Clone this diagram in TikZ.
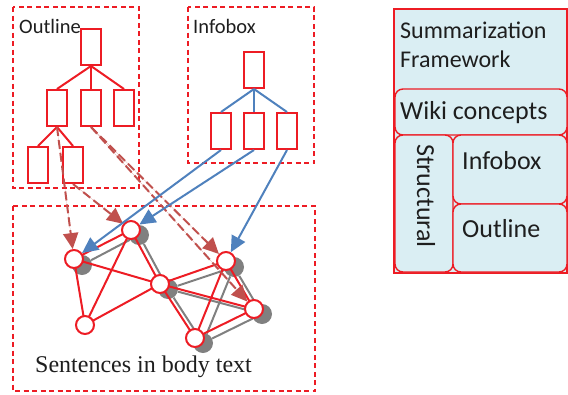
\documentclass[tikz,border=0pt]{standalone}
\usepackage{fontspec}
\setmainfont{Liberation Serif}
\newfontfamily\calfont{Carlito}
\usetikzlibrary{arrows.meta}
\definecolor{myred}{RGB}{237,28,36}
\definecolor{dashred}{RGB}{192,80,77}
\definecolor{myblue}{RGB}{79,129,189}
\definecolor{panel}{RGB}{218,238,243}
\definecolor{shadow}{RGB}{128,128,128}
\definecolor{txt}{RGB}{30,30,30}
\begin{document}
\begin{tikzpicture}[x=1pt,y=-1pt,
 rbox/.style={draw=myred,line width=2pt,minimum width=20pt,minimum height=36pt,inner sep=0pt},
 frame/.style={draw=myred,line width=1.8pt,dash pattern=on 5pt off 3.5pt},
 rn/.style={circle,draw=myred,fill=white,line width=2pt,minimum size=18pt,inner sep=0pt},
 gn/.style={circle,fill=shadow,minimum size=20pt,inner sep=0pt},
 redge/.style={draw=myred,line width=2pt},
 bedge/.style={draw=myblue,line width=2pt},
 gedge/.style={draw=shadow,line width=2pt},
 darr/.style={draw=dashred,fill=dashred,line width=2pt,dash pattern=on 9pt off 4pt,-{Triangle[length=16pt,width=15pt]}},
 barr/.style={draw=myblue,fill=myblue,line width=2pt,-{Triangle[length=16pt,width=15pt]}},
 lab/.style={anchor=west,inner sep=0pt,text=txt,font=\calfont\fontsize{20.5}{22}\selectfont},
 plab/.style={anchor=west,inner sep=0pt,text=txt,font=\calfont\fontsize{26}{28}\selectfont},
 pbox/.style={draw=myred,line width=1.4pt,fill=panel,rounded corners=8pt}
]
\useasboundingbox (0,0) rectangle (568,394);

% frames
\draw[frame] (13,7) rectangle (139,188);
\draw[frame] (188,7) rectangle (314,163);
\draw[frame] (13,206) rectangle (315,391);

\node[lab] (lo) at (19,26) {Outline};
\node[lab] (li) at (193,26) {Infobox};
\node[anchor=west,inner sep=0pt,text=txt,font=\fontsize{24}{26}\selectfont] (ls) at (35,367) {Sentences in body text};

% outline tree
\node[rbox] (o0) at (91,47) {};
\node[rbox] (oa) at (57,108) {};
\node[rbox] (ob) at (91,108) {};
\node[rbox] (oc) at (124,108) {};
\node[rbox] (od) at (38,165) {};
\node[rbox] (oe) at (73,165) {};
\draw[redge] (o0.south) -- (oa.north);
\draw[redge] (o0.south) -- (ob.north);
\draw[redge] (o0.south) -- (oc.north);
\draw[redge] (oa.south) -- (od.north);
\draw[redge] (oa.south) -- (oe.north);

% infobox tree
\node[rbox] (i0) at (254,70) {};
\node[rbox] (ia) at (221,131) {};
\node[rbox] (ib) at (254,131) {};
\node[rbox] (ic) at (287,131) {};
\draw[bedge] (i0.south) -- (ia.north);
\draw[bedge] (i0.south) -- (ib.north);
\draw[bedge] (i0.south) -- (ic.north);

% shadow graph
\node[gn] (ga) at (82,265) {};
\node[gn] (gb) at (139,235) {};
\node[gn] (gc) at (168,289) {};
\node[gn] (ge) at (234,267) {};
\node[gn] (gf) at (262,314) {};
\node[gn] (gg) at (203,343) {};
\draw[gedge] (ga) -- (gb);
\draw[gedge] (gb) -- (gc);
\draw[gedge] (gc) -- (ge);
\draw[gedge] (gc) -- (gf);
\draw[gedge] (gc) -- (gg);
\draw[gedge] (ge) -- (gf);
\draw[gedge] (ge) -- (gg);
\draw[gedge] (gf) -- (gg);

% red graph
\coordinate (pA) at (74,259);
\coordinate (pB) at (131,230);
\coordinate (pC) at (160,284);
\coordinate (pD) at (85,325);
\coordinate (pE) at (226,261);
\coordinate (pF) at (254,309);
\coordinate (pG) at (195,338);
\draw[redge] (pA) -- (pB) (pA) -- (pC) (pA) -- (pD) (pB) -- (pD) (pB) -- (pC) (pC) -- (pD)
  (pC) -- (pE) (pC) -- (pF) (pC) -- (pG) (pE) -- (pF) (pE) -- (pG) (pF) -- (pG);
\node[rn] (A) at (pA) {};
\node[rn] (B) at (pB) {};
\node[rn] (C) at (pC) {};
\node[rn] (D) at (pD) {};
\node[rn] (E) at (pE) {};
\node[rn] (F) at (pF) {};
\node[rn] (G) at (pG) {};

% arrows
\draw[darr] (oa.south) -- (A);
\draw[darr] (oe.south) -- (B);
\draw[darr] (ob.south) -- (E);
\draw[darr] (ob.south) -- (F);
\draw[barr] (ia.south) -- (A);
\draw[barr] (ib.south) -- (B);
\draw[barr] (ic.south) -- (E);

% right panel
\draw[draw=myred,line width=1.4pt,fill=panel] (394,9) rectangle (567,273);
\draw[pbox] (395,89) rectangle (567,135);
\draw[pbox] (395,135) rectangle (453,272);
\draw[pbox] (453,135) rectangle (567,204);
\draw[pbox] (453,204) rectangle (567,272);
\node[anchor=west,inner sep=0pt,text=txt,font=\calfont\fontsize{24}{26}\selectfont] (ps) at (400,30) {Summarization};
\node[anchor=west,inner sep=0pt,text=txt,font=\calfont\fontsize{24}{26}\selectfont] (pf) at (400,59) {Framework};
\node[plab] (pw) at (400,113) {Wiki concepts};
\node[plab,anchor=center,rotate=-90] (pst) at (426,196) {Structural};
\node[plab] (pi) at (462,161) {Infobox};
\node[plab] (po) at (462,229) {Outline};
\end{tikzpicture}
\end{document}
